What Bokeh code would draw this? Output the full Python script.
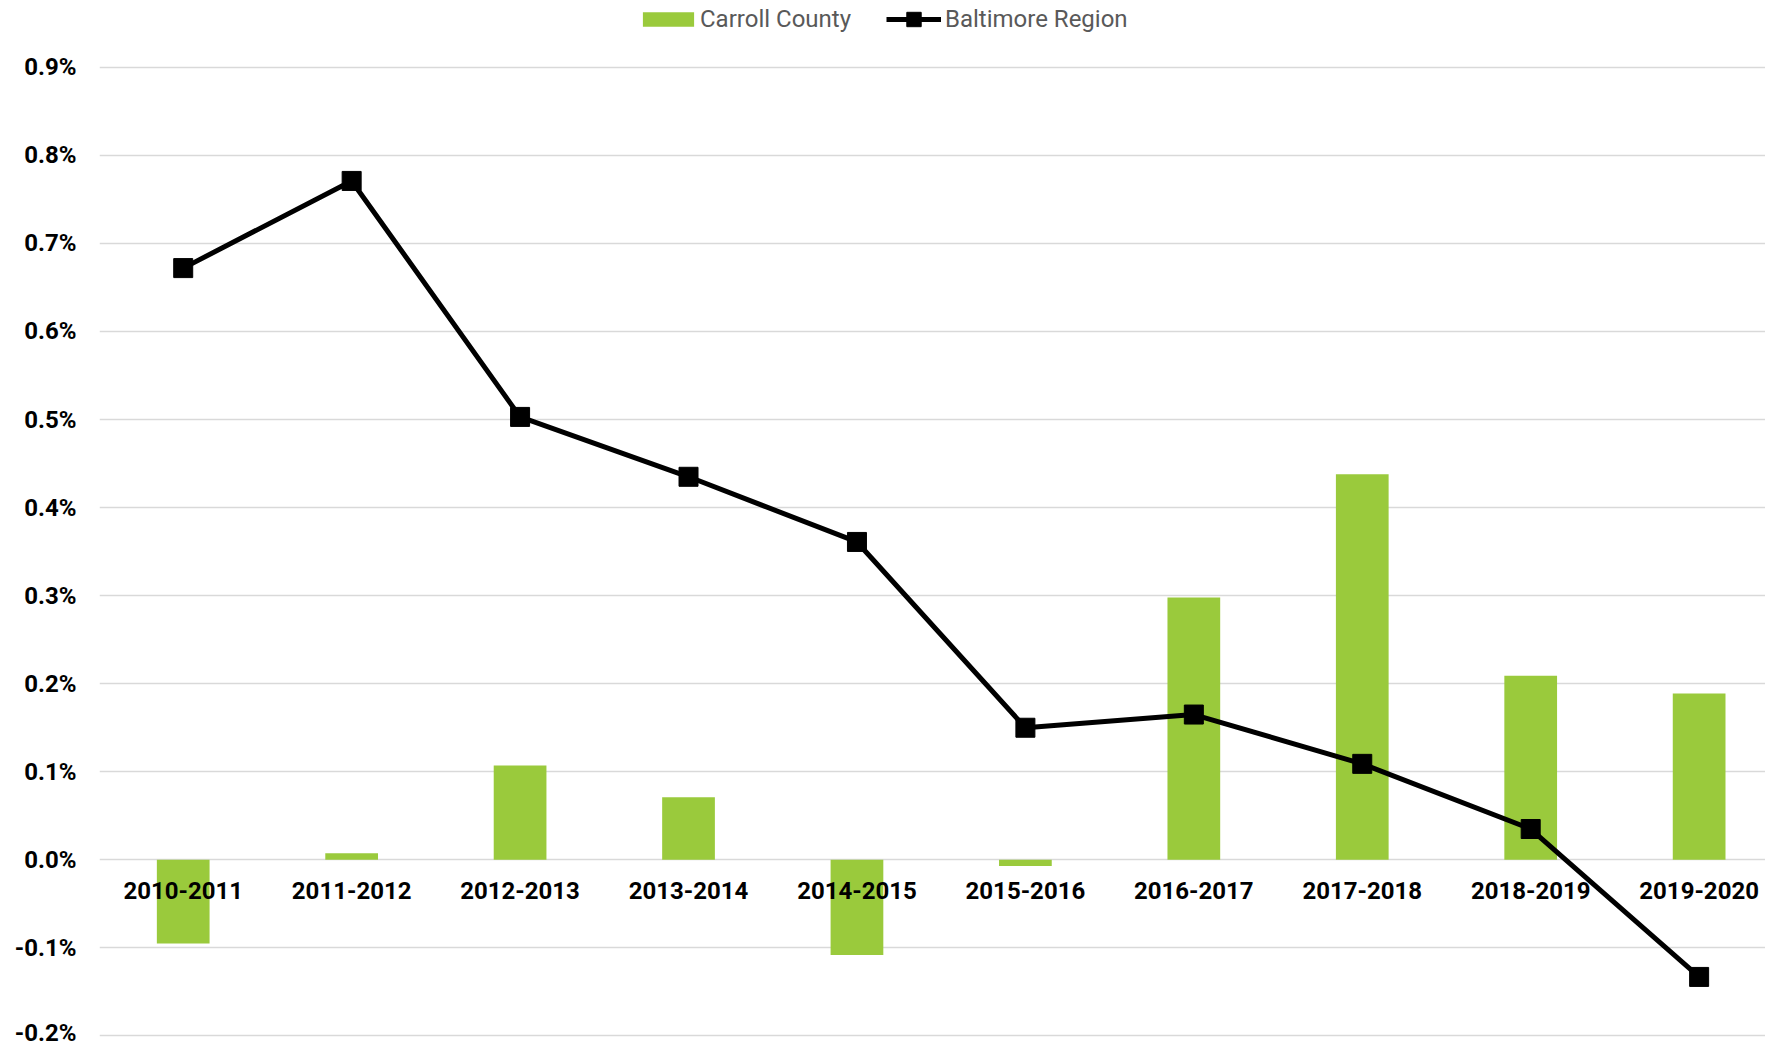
from bokeh.plotting import figure
from bokeh.models import Range1d, FixedTicker, PrintfTickFormatter, Legend, LegendItem, ColumnDataSource
from bokeh.core.properties import value
from bokeh.embed import file_html
from bokeh.resources import INLINE

categories = ["2010-2011", "2011-2012", "2012-2013", "2013-2014", "2014-2015",
              "2015-2016", "2016-2017", "2017-2018", "2018-2019", "2019-2020"]
carroll_county = [-0.095, 0.0075, 0.107, 0.071, -0.108, -0.007, 0.298, 0.438, 0.209, 0.189]
baltimore_region = [0.672, 0.771, 0.503, 0.435, 0.361, 0.150, 0.165, 0.109, 0.035, -0.133]
y_ticks = [-0.2, -0.1, 0.0, 0.1, 0.2, 0.3, 0.4, 0.5, 0.6, 0.7, 0.8, 0.9]

GREEN = "#9ACA3C"
FONT = value("Roboto")

xs = list(range(len(categories)))
src = ColumnDataSource(dict(x=xs, cat=categories, carroll=carroll_county,
                            balt=baltimore_region, zero=[0.0] * len(categories)))

p = figure(width=1765, height=1046, output_backend="svg", toolbar_location=None,
           x_range=Range1d(-0.497, 9.394), y_range=Range1d(-0.2120, 0.9759),
           min_border_left=99, min_border_right=0, min_border_top=0, min_border_bottom=0)
p.outline_line_color = None
p.background_fill_color = "white"

bars = p.vbar(x="x", top="carroll", bottom=0, width=0.313, source=src,
              fill_color=GREEN, line_color=None)

p.text(x="x", y="zero", text="cat", source=src, text_align="center", text_baseline="middle",
       y_offset=31, text_font=FONT, text_font_style="bold", text_font_size="24px",
       text_color="black")

line = p.line(x="x", y="balt", source=src, line_width=5, line_color="black")
marks = p.scatter(x="x", y="balt", source=src, marker="square", size=19,
                  fill_color="black", line_color="black")

p.xaxis.visible = False
p.xgrid.visible = False
p.ygrid.grid_line_color = "#d9d9d9"
p.ygrid.grid_line_width = 1.5
p.yaxis.ticker = FixedTicker(ticks=y_ticks)
p.yaxis.formatter = PrintfTickFormatter(format="%.1f%%")
p.yaxis.axis_line_color = None
p.yaxis.major_tick_line_color = None
p.yaxis.minor_tick_line_color = None
p.yaxis.major_tick_out = 0
p.yaxis.major_label_standoff = 23
p.yaxis.major_label_text_font = "Roboto"
p.yaxis.major_label_text_font_style = "bold"
p.yaxis.major_label_text_font_size = "24px"
p.yaxis.major_label_text_color = "black"

common = dict(orientation="horizontal", padding=0, margin=0, spacing=0,
              border_line_color=None, background_fill_alpha=0,
              label_text_font="Roboto", label_text_font_size="24px",
              label_text_color="#595959")

leg1 = Legend(items=[LegendItem(label="Carroll County", renderers=[bars])],
              location=(537, 1013), glyph_width=64, glyph_height=18, label_standoff=0,
              label_height=16, **common)
leg2 = Legend(items=[LegendItem(label="Baltimore Region", renderers=[line, marks])],
              location=(787, 1009), glyph_width=55, glyph_height=36, label_standoff=4,
              label_height=16, **common)
p.add_layout(leg1)
p.add_layout(leg2)

open("out.html", "w").write(file_html(p, INLINE))
